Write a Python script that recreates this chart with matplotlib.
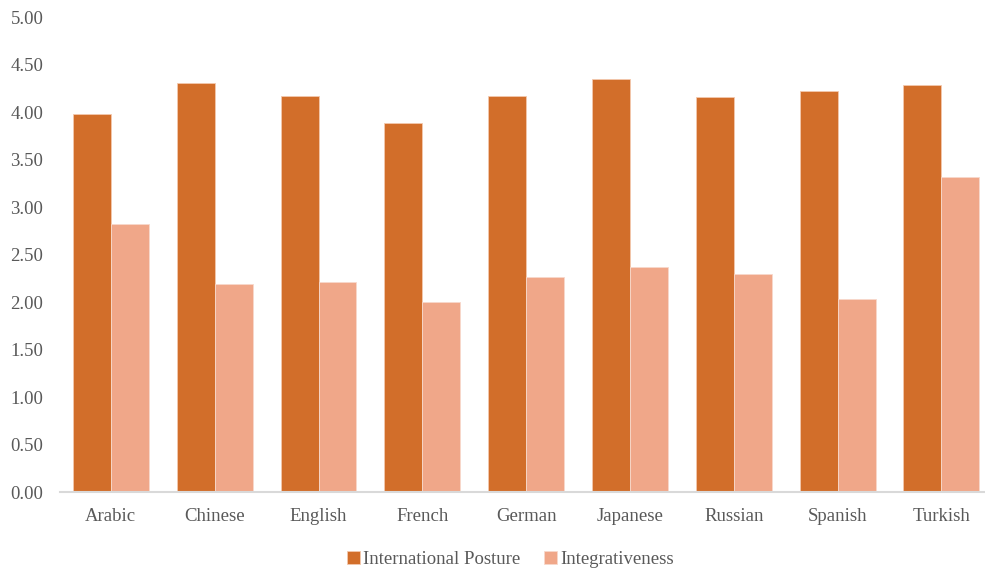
import matplotlib.pyplot as plt
import numpy as np

plt.rcParams['font.family'] = ['Liberation Serif', 'DejaVu Serif']

# mean scores per language group
languages = ["Arabic", "Chinese", "English", "French", "German",
             "Japanese", "Russian", "Spanish", "Turkish"]
international_posture = [3.98, 4.31, 4.17, 3.89, 4.17, 4.35, 4.16, 4.22, 4.29]
integrativeness = [2.82, 2.19, 2.21, 2.00, 2.27, 2.37, 2.30, 2.03, 3.32]
y_ticks = [0.0, 0.5, 1.0, 1.5, 2.0, 2.5, 3.0, 3.5, 4.0, 4.5, 5.0]

c_ip = "#D26E2A"
c_int = "#F0A789"
grey = "#595959"

fig = plt.figure(figsize=(9.85, 5.69), dpi=100)
ax = fig.add_axes([60 / 985, 0.1348, 925 / 985, 0.8348])

x = np.arange(len(languages))
w = 0.366
ax.bar(x - w / 2, international_posture, w, color=c_ip, edgecolor="#F3C9AE",
       linewidth=0.6, label="International Posture")
ax.bar(x + w / 2, integrativeness, w, color=c_int, edgecolor="#F8D9CC",
       linewidth=0.6, label="Integrativeness")

ax.set_xlim(-0.49, 8.42)
ax.set_ylim(0, 5)
ax.set_yticks(y_ticks)
ax.set_yticklabels([f"{v:.2f}" for v in y_ticks])
ax.set_xticks(x)
ax.set_xticklabels(languages)

for s in ["top", "right", "left"]:
    ax.spines[s].set_visible(False)
ax.spines["bottom"].set_color("#D9D9D9")
ax.spines["bottom"].set_linewidth(1.5)
ax.tick_params(axis="y", length=0, pad=12, labelsize=13.5, labelcolor=grey)
ax.tick_params(axis="x", length=0, pad=11, labelsize=13.5, labelcolor=grey)

leg = fig.legend(loc="lower center", bbox_to_anchor=(0.518, -0.028), ncol=2,
                 frameon=False, fontsize=13.5, handlelength=0.7,
                 handleheight=0.7, handletextpad=0.15, columnspacing=1.3)
for t in leg.get_texts():
    t.set_color(grey)

fig.savefig("out.png", dpi=100)
